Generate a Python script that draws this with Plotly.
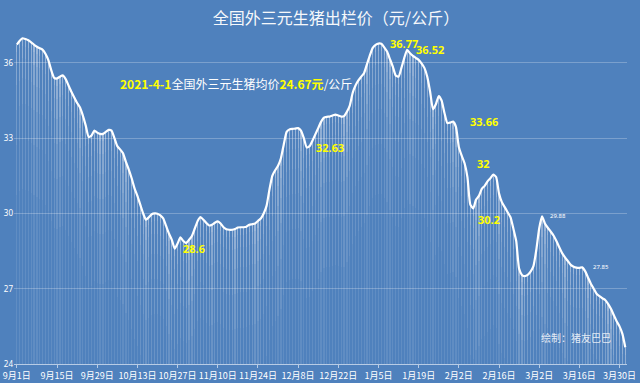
import plotly.graph_objects as go
import pandas as pd

start_date = "2020-09-01"
prices = [
    36.73, 36.88, 36.98, 36.95, 36.90, 36.82, 36.72, 36.64, 36.58, 36.52,
    36.35, 36.10, 35.70, 35.40, 35.38, 35.45, 35.50, 35.35, 35.10, 34.85,
    34.62, 34.40, 34.22, 33.90, 33.50, 33.05, 33.10, 33.30, 33.22, 33.17,
    33.17, 33.25, 33.33, 33.30, 33.00, 32.68, 32.55, 32.40, 32.05, 31.75,
    31.40, 31.00, 30.70, 30.35, 30.00, 29.75, 29.85, 29.97, 30.00, 29.99,
    29.92, 29.80, 29.50, 29.20, 28.95, 28.60, 28.80, 29.05, 28.90, 28.82,
    28.95, 29.10, 29.40, 29.70, 29.85, 29.75, 29.62, 29.52, 29.55, 29.63,
    29.68, 29.60, 29.45, 29.37, 29.35, 29.35, 29.38, 29.44, 29.45, 29.45,
    29.47, 29.55, 29.57, 29.60, 29.70, 29.80, 30.00, 30.30, 30.95, 31.50,
    31.72, 31.90, 32.20, 32.75, 33.25, 33.35, 33.37, 33.38, 33.40, 33.30,
    33.00, 32.63, 32.68, 32.90, 33.15, 33.40, 33.65, 33.82, 33.85, 33.86,
    33.90, 33.94, 33.90, 33.86, 33.88, 34.05, 34.30, 34.80, 35.10, 35.30,
    35.45, 35.60, 35.95, 36.30, 36.60, 36.72, 36.77, 36.76, 36.62, 36.45,
    36.15, 35.85, 35.50, 35.45, 35.80, 36.20, 36.52, 36.38, 36.28, 36.20,
    36.12, 35.98, 35.80, 35.45, 34.85, 34.15, 34.35, 34.68, 34.50, 34.00,
    33.60, 33.62, 33.66, 33.45, 32.65, 32.30, 32.00, 31.45, 30.35, 30.20,
    30.55, 30.70, 30.98, 31.10, 31.28, 31.40, 31.55, 31.45, 30.80, 30.45,
    30.25, 30.05, 29.85, 29.40, 28.90, 27.80, 27.55, 27.50, 27.55, 27.68,
    27.90, 28.55, 29.40, 29.88, 29.60, 29.43, 29.28, 29.12, 28.90, 28.65,
    28.42, 28.25, 28.10, 27.95, 27.88, 27.84, 27.83, 27.85, 27.70, 27.45,
    27.20, 27.00, 26.80, 26.70, 26.62, 26.55, 26.40, 26.20, 25.95, 25.70,
    25.50, 25.20, 24.67,
]
dates = pd.date_range(start_date, periods=len(prices), freq="D")

tick_dates = pd.date_range(start_date, "2021-03-30", freq="14D")
tick_labels = ["9月1日", "9月15日", "9月29日", "10月13日", "10月27日", "11月10日",
               "11月24日", "12月8日", "12月22日", "1月5日", "1月19日", "2月2日",
               "2月16日", "3月2日", "3月16日", "3月30日"]
y_ticks = [24, 27, 30, 33, 36]

# labelled points: (index, text, xshift, yshift, style)
point_labels = [
    (55, "28.6", 6, 0, "big"),
    (101, "32.63", 7, 0, "big"),
    (126, "36.77", 10, 0, "big"),
    (136, "36.52", 7, 0, "big"),
    (152, "33.66", 15, 0, "big"),
    (156, "32", 10, 0, "big"),
    (159, "30.2", 3, -11, "big"),
    (183, "29.88", 6, 0, "small"),
    (197, "27.85", 9, 0, "small"),
]

BG = "#4F81BD"
FONT = "Noto Sans CJK SC"
YMIN = 24
DAY_MS = 86400000

fig = go.Figure()

# layered bars to imitate a top-to-bottom fading fill
layers = [(None, 0.10), (6.0, 0.06), (4.0, 0.06), (2.6, 0.07), (1.6, 0.08), (0.8, 0.09), (0.3, 0.10)]
for depth, alpha in layers:
    if depth is None:
        base = [YMIN for v in prices]
    else:
        base = [max(YMIN, v - depth) for v in prices]
    fig.add_trace(go.Bar(
        x=dates, y=[v - b for v, b in zip(prices, base)], base=base,
        width=0.42 * DAY_MS,
        marker=dict(color=f"rgba(255,255,255,{alpha})", line=dict(width=0)),
        hoverinfo="skip", showlegend=False,
    ))

fig.add_trace(go.Scatter(
    x=dates, y=prices, mode="lines",
    line=dict(color="white", width=2.2, shape="spline", smoothing=0.5),
    hoverinfo="skip", showlegend=False,
))

annotations = []
for idx, txt, xs, ys, style in point_labels:
    if style == "big":
        font = dict(family="Noto Sans, " + FONT, size=11, color="#FFFF00")
        txt = f"<b>{txt}</b>"
    else:
        font = dict(family="Noto Sans", size=6, color="white")
    annotations.append(dict(
        x=dates[idx], y=prices[idx], xref="x", yref="y", text=txt,
        showarrow=False, xanchor="left", yanchor="middle",
        xshift=xs, yshift=ys, font=font,
    ))

annotations.append(dict(
    x=0.17, y=0.846, xref="paper", yref="paper", xanchor="left", yanchor="middle",
    showarrow=False,
    text=("<span style='color:#FFFF00'><b>2021-4-1</b></span>全国外三元生猪均价"
          "<span style='color:#FFFF00'><b>24.67元</b></span>/公斤"),
    font=dict(family=FONT, size=12, color="white"),
))
annotations.append(dict(
    x=0.917, y=0.081, xref="paper", yref="paper", xanchor="center", yanchor="middle",
    showarrow=False, text="绘制：猪友巴巴",
    font=dict(family=FONT, size=10, color="rgba(255,255,255,0.85)"),
))

fig.update_layout(
    width=640, height=383,
    paper_bgcolor=BG, plot_bgcolor=BG,
    margin=dict(l=14, r=13, t=32, b=19, autoexpand=False),
    barmode="overlay", bargap=0,
    title=dict(text="全国外三元生猪出栏价（元/公斤）", x=0.525, xanchor="center",
               y=0.953, yanchor="middle",
               font=dict(family=FONT, size=16, color="rgba(255,255,255,0.95)")),
    annotations=annotations,
    showlegend=False,
)
fig.update_xaxes(
    range=[pd.Timestamp(start_date) - pd.Timedelta(days=1),
           pd.Timestamp(start_date) + pd.Timedelta(days=212.6)],
    tickvals=tick_dates, ticktext=tick_labels, tickangle=0, automargin=False,
    tickfont=dict(family=FONT, size=9, color="white"),
    showgrid=False, showline=True, linecolor="rgba(255,255,255,0.6)", linewidth=1,
    ticks="outside", ticklen=3, tickcolor="rgba(255,255,255,0.6)",
    zeroline=False,
)
fig.update_yaxes(
    range=[YMIN, 37.23], tickvals=y_ticks, ticktext=[str(t) for t in y_ticks],
    automargin=False,
    tickfont=dict(family="Noto Sans", size=8, color="white"),
    showgrid=True, gridcolor="rgba(255,255,255,0.25)", gridwidth=1,
    zeroline=False, showline=False, ticks="",
)

fig.write_html(
    "out.html",
    config={"displayModeBar": False, "staticPlot": True},
    post_script="document.body.style.margin='0';document.body.style.padding='0';"
                "document.body.style.overflow='hidden';",
)
